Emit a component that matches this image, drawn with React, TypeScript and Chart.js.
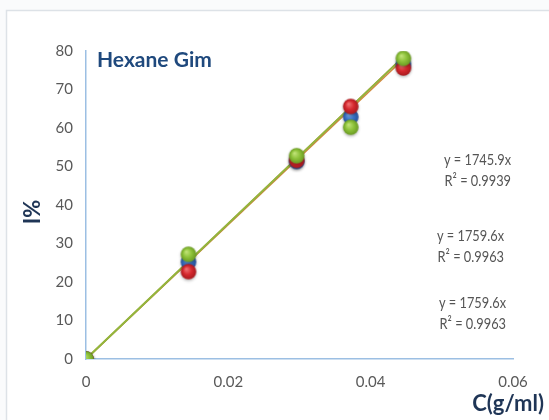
import React, { useEffect, useRef } from "react";
import { Chart, registerables } from "chart.js";

Chart.register(...registerables);

// Concentration of each standard (g/ml)
const concentrations = [0, 0.0144, 0.0296, 0.0372, 0.0446];

// Measured inhibition I% for the three runs
const runBlue = [0, 25.2, 51.3, 62.9, 76.6];
const runRed = [0, 22.7, 51.6, 65.6, 75.6];
const runGreen = [0, 27.2, 52.8, 60.2, 78.1];

// Linear fits through the origin (slope, R²)
const fitSlopes = [1745.9, 1759.6, 1759.6];
const fitR2 = ["0.9939", "0.9963", "0.9963"];

const xTickLabels = ["0", "0.02", "0.04", "0.06"];
const yTickLabels = ["0", "10", "20", "30", "40", "50", "60", "70", "80"];

const W = 549;
const H = 420;
const FONT = "Lato, 'Open Sans', sans-serif";

function makeMarker(base: string, light: string, dark: string, r = 7.8) {
  const pad = 4;
  const size = Math.ceil(2 * (r + pad));
  const c = document.createElement("canvas");
  c.width = size;
  c.height = size;
  const ctx = c.getContext("2d")!;
  const cx = size / 2;
  const cy = size / 2;
  ctx.save();
  ctx.shadowColor = "rgba(0,0,0,0.28)";
  ctx.shadowBlur = 3;
  ctx.shadowOffsetY = 1.5;
  const g = ctx.createRadialGradient(cx - r * 0.3, cy - r * 0.35, 0, cx, cy, r);
  g.addColorStop(0, light);
  g.addColorStop(0.55, base);
  g.addColorStop(1, dark);
  ctx.fillStyle = g;
  ctx.beginPath();
  ctx.arc(cx, cy, r, 0, Math.PI * 2);
  ctx.fill();
  ctx.restore();
  return c;
}

function pairs(ys: number[]) {
  return concentrations.map((x, i) => ({ x, y: ys[i] }));
}

function fitLine(slope: number) {
  const xMax = Math.max(...concentrations);
  return [
    { x: 0, y: 0 },
    { x: xMax, y: slope * xMax },
  ];
}

// narrow text, drawn right-aligned at (right, y)
function narrowText(ctx: CanvasRenderingContext2D, text: string, right: number, y: number, sx: number) {
  ctx.save();
  ctx.translate(right, y);
  ctx.scale(sx, 1);
  ctx.textAlign = "right";
  ctx.fillText(text, 0, 0);
  ctx.restore();
}

const decorPlugin = {
  id: "decor",
  beforeDraw(chart: any) {
    const ctx = chart.ctx;
    ctx.save();
    ctx.fillStyle = "#fafbfc";
    ctx.fillRect(0, 0, W, H);
    ctx.fillStyle = "#ffffff";
    ctx.fillRect(6, 10, W - 6, H - 10);
    ctx.strokeStyle = "#dde2e7";
    ctx.lineWidth = 1.5;
    ctx.strokeRect(6.5, 10.5, W + 5, H + 5);
    ctx.restore();
  },
  afterDraw(chart: any) {
    const ctx = chart.ctx;
    ctx.save();
    // chart title
    ctx.fillStyle = "#1f497d";
    ctx.font = `bold 21px ${FONT}`;
    ctx.textAlign = "left";
    ctx.textBaseline = "middle";
    ctx.fillText("Hexane Gim", 97, 60);

    // axis titles
    ctx.fillStyle = "#1f3556";
    ctx.font = `bold 22px ${FONT}`;
    ctx.textAlign = "right";
    ctx.fillText("C(g/ml)", 544, 404);

    ctx.save();
    ctx.translate(33, 212);
    ctx.rotate(-Math.PI / 2);
    ctx.textAlign = "center";
    ctx.fillText("I%", 0, 0);
    ctx.restore();

    // fit equations
    ctx.fillStyle = "#555555";
    ctx.font = `16px ${FONT}`;
    const blocks = [
      { right: 511, top: 160 },
      { right: 504, top: 236 },
      { right: 506, top: 303 },
    ];
    blocks.forEach((b, i) => {
      narrowText(ctx, `y = ${fitSlopes[i].toFixed(1)}x`, b.right, b.top, 0.8);
      narrowText(ctx, `R² = ${fitR2[i]}`, b.right, b.top + 21, 0.8);
    });
    ctx.restore();
  },
};

export default function App() {
  const ref = useRef<HTMLCanvasElement | null>(null);

  useEffect(() => {
    if (!ref.current) return;
    const blueM = makeMarker("#3a72c4", "#7fb0ec", "#24509a");
    const redM = makeMarker("#d6282e", "#f2787a", "#a81a1f");
    const greenM = makeMarker("#8dc23a", "#c6e67e", "#6a9a22");

    const fitColors = ["#d08a3e", "#c0504d", "#92b83c"];

    const chart = new Chart(ref.current, {
      type: "scatter",
      data: {
        datasets: [
          ...fitSlopes.map((s, i) => ({
            type: "line" as const,
            data: fitLine(s),
            borderColor: fitColors[i],
            borderWidth: i === 2 ? 2 : 1.5,
            pointRadius: 0,
            fill: false,
            order: 10 - i,
          })),
          {
            data: pairs(runBlue),
            pointStyle: blueM,
            pointRadius: 8,
            order: 3,
          },
          {
            data: pairs(runRed),
            pointStyle: redM,
            pointRadius: 8,
            order: 2,
          },
          {
            data: pairs(runGreen),
            pointStyle: greenM,
            pointRadius: 8,
            order: 1,
          },
        ] as any,
      },
      options: {
        responsive: false,
        animation: false,
        layout: { padding: { top: 51, right: 36, left: 0, bottom: 0 } },
        plugins: {
          legend: { display: false },
          tooltip: { enabled: false },
        },
        scales: {
          x: {
            type: "linear",
            min: 0,
            max: 0.06,
            afterFit: (s: any) => {
              s.height = 61;
            },
            grid: { display: false, drawTicks: false },
            border: { display: true, color: "#9cbfe3", width: 1.5 },
            ticks: {
              stepSize: 0.02,
              padding: 14,
              color: "#595959",
              font: { family: FONT, size: 15 },
              callback: (_v: any, i: number) => xTickLabels[i],
            },
          },
          y: {
            type: "linear",
            min: 0,
            max: 80,
            afterFit: (s: any) => {
              s.width = 86;
            },
            grid: { display: false, drawTicks: false },
            border: { display: true, color: "#9cbfe3", width: 1.5 },
            ticks: {
              stepSize: 10,
              padding: 13,
              color: "#595959",
              font: { family: FONT, size: 15 },
              callback: (_v: any, i: number) => yTickLabels[i],
            },
          },
        },
      } as any,
      plugins: [decorPlugin],
    });
    return () => chart.destroy();
  }, []);

  return (
    <div style={{ position: "fixed", left: 0, top: 0, width: W, height: H }}>
      <canvas ref={ref} width={W} height={H} style={{ display: "block" }} />
    </div>
  );
}
